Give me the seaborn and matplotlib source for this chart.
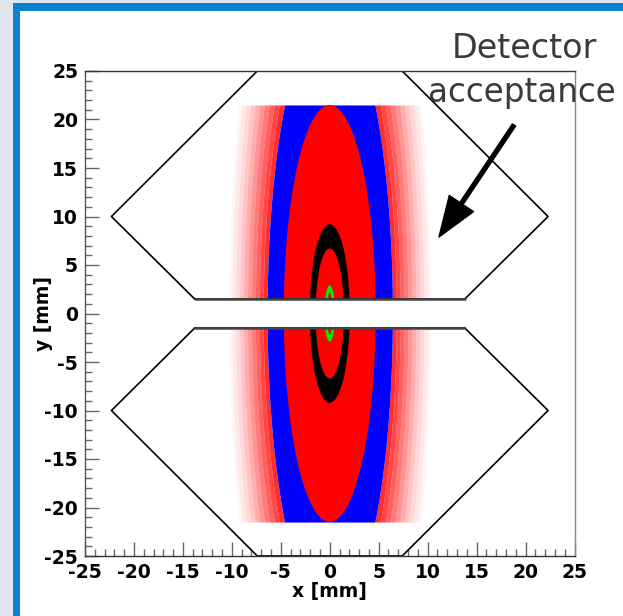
import numpy as np
import matplotlib
matplotlib.use("Agg")
import matplotlib.pyplot as plt
from matplotlib.patches import Ellipse, Rectangle
from matplotlib.ticker import MultipleLocator
import seaborn as sns
import pandas as pd

# ---------------- data ----------------
x_ticks = [-25, -20, -15, -10, -5, 0, 5, 10, 15, 20, 25]
y_ticks = [-25, -20, -15, -10, -5, 0, 5, 10, 15, 20, 25]

# detector acceptance outlines (upper and lower halves), mm
acc_upper_x = [-13.8, -22.3, -7.4, 7.4, 22.3, 13.8, -13.8]
acc_upper_y = [1.5, 10.0, 25.0, 25.0, 10.0, 1.5, 1.5]
acc_lower_x = [-13.8, -22.3, -7.4, 7.4, 22.3, 13.8, -13.8]
acc_lower_y = [-1.5, -10.0, -25.0, -25.0, -10.0, -1.5, -1.5]

y_cut = 21.5          # beam distribution truncated at |y| = 21.5 mm
gap_half = 1.5        # no particles between the two detector halves
gap_x = [-13.8, 13.8]

# contour ellipses of the beam distribution (semi-axis x, semi-axis y), mm
blue_halo = (6.4, 31.0)
red_core = (4.7, 21.5)
black_outer = (2.05, 9.2)
black_inner = (1.45, 6.7)
green_outer = (0.55, 2.9)
green_inner = (0.25, 2.2)

# sparse red tail outside the blue halo: ring semi-axes (x) and dot density
tail_edges = [6.4, 6.8, 7.2, 7.6, 8.0, 8.4, 8.8, 9.2, 9.6, 10.0, 10.3]
tail_density = [0.82, 0.72, 0.62, 0.52, 0.42, 0.32, 0.23, 0.15, 0.09, 0.04]
tail_aspect = 31.0 / 6.4

# ---------------- figure ----------------
sns.set_style("white")
plt.rcParams['font.family'] = ['DejaVu Sans']

W, H = 623, 616
fig = plt.figure(figsize=(W / 100, H / 100), dpi=100)
fig.patch.set_facecolor('#dfe6f0')
fig.add_artist(Rectangle((13 / W, -0.1), 1.0, (H - 3) / H + 0.1, transform=fig.transFigure,
                         facecolor='#0a82cf', edgecolor='none', zorder=0))
fig.add_artist(Rectangle((20 / W, -0.1), 1.0, (H - 11) / H + 0.1, transform=fig.transFigure,
                         facecolor='white', edgecolor='none', zorder=0))

ax = fig.add_axes([85 / W, 1 - 556 / H, (574.5 - 85) / W, (556 - 71) / H])
ax.set_facecolor('white')
ax.set_xlim(-25, 25)
ax.set_ylim(-25, 25)

yy = np.linspace(-y_cut, y_cut, 600)


def half_width(a, b, y):
    return a * np.sqrt(np.clip(1 - (y / b) ** 2, 0, None))


# tail rings
for a0, a1, d in zip(tail_edges[:-1], tail_edges[1:], tail_density):
    xi = half_width(a0, a0 * tail_aspect, yy)
    xo = half_width(a1, a1 * tail_aspect, yy)
    ax.fill_betweenx(yy, xi, xo, color='#ff0000', alpha=d, lw=0, zorder=1)
    ax.fill_betweenx(yy, -xo, -xi, color='#ff0000', alpha=d, lw=0, zorder=1)

# blue halo (truncated)
xb = half_width(blue_halo[0], blue_halo[1], yy)
ax.fill_betweenx(yy, -xb, xb, color='#0000ff', lw=0, zorder=2)

# nested ellipses
for (a, b), col in [(red_core, '#ff0000'), (black_outer, '#000000'), (black_inner, '#ff0000'),
                    (green_outer, '#00ee00'), (green_inner, '#ff0000')]:
    ax.add_patch(Ellipse((0, 0), 2 * a, 2 * b, facecolor=col, edgecolor='none', zorder=3))

# empty gap between detector halves
ax.add_patch(Rectangle((gap_x[0], -gap_half), gap_x[1] - gap_x[0], 2 * gap_half,
                       facecolor='white', edgecolor='none', zorder=4))

# acceptance outlines
df_up = pd.DataFrame({'x': acc_upper_x, 'y': acc_upper_y})
df_lo = pd.DataFrame({'x': acc_lower_x, 'y': acc_lower_y})
sns.lineplot(data=df_up, x='x', y='y', sort=False, estimator=None, color='black', lw=1.2, ax=ax, zorder=5)
sns.lineplot(data=df_lo, x='x', y='y', sort=False, estimator=None, color='black', lw=1.2, ax=ax, zorder=5)
for yv in (gap_half, -gap_half):
    ax.plot(gap_x, [yv, yv], color='#444444', lw=1.8, zorder=5)

ax.set_xlim(-25, 25)
ax.set_ylim(-25, 25)

# axes styling (ROOT-like)
ax.set_xticks(x_ticks)
ax.set_yticks(y_ticks)
ax.xaxis.set_minor_locator(MultipleLocator(1))
ax.yaxis.set_minor_locator(MultipleLocator(1))
ax.tick_params(which='both', direction='in', top=False, right=False, bottom=True, left=True,
               color='#666666', width=1.0)
ax.tick_params(which='major', length=10, labelsize=13.5, pad=5, labelcolor='black')
ax.tick_params(which='minor', length=4.8)
ax.set_xticklabels([str(t) for t in x_ticks], fontweight='bold', fontsize=13.5, color='black')
ax.set_yticklabels([str(t) for t in y_ticks], fontweight='bold', fontsize=13.5, color='black')
ax.set_xlabel('x [mm]', fontweight='bold', fontsize=13.5, color='black', va='center', ha='center')
ax.set_ylabel('y [mm]', fontweight='bold', fontsize=13.5, color='black', va='center', ha='center')
ax.xaxis.set_label_coords(0.5, (556 - 592) / 485)
ax.yaxis.set_label_coords((43 - 85) / 489.5, 0.5)
for side, col in [('left', '#555555'), ('bottom', '#333333'), ('top', '#333333'), ('right', '#888888')]:
    ax.spines[side].set_visible(True)
    ax.spines[side].set_color(col)
    ax.spines[side].set_linewidth(1.0)
    ax.spines[side].set_zorder(6)

# annotation
fig.text(524 / W, 1 - 58 / H, 'Detector', ha='center', va='baseline', fontsize=24, color='#3a3a3a')
fig.text(522 / W, 1 - 102 / H, 'acceptance', ha='center', va='baseline', fontsize=23.5, color='#3a3a3a')
ax.annotate('', xy=(439, H - 237), xytext=(514, H - 125), xycoords='figure pixels',
            textcoords='figure pixels',
            arrowprops=dict(width=2.8, headwidth=21, headlength=29, facecolor='black',
                            edgecolor='black', shrink=0))

fig.savefig('out.png', dpi=100, facecolor=fig.get_facecolor())
